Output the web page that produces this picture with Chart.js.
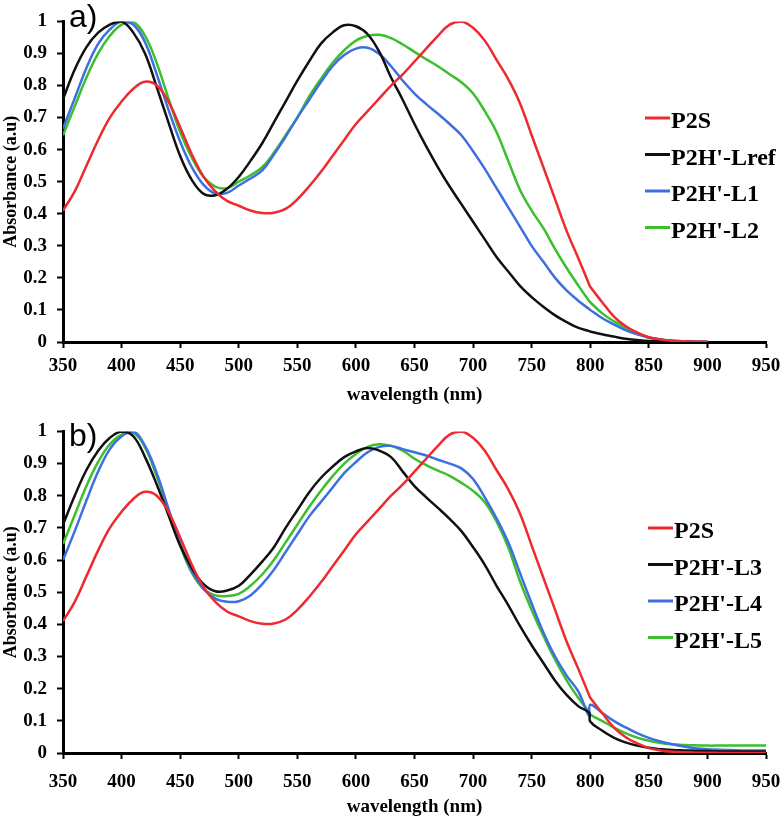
<!DOCTYPE html>
<html lang="en">
<head>
  <meta charset="UTF-8">
  <title>Absorbance spectra</title>
  <script src="https://cdn.jsdelivr.net/npm/chart.js"></script>
  <style>
    body {
      margin: 0;
      background: #fff;
    }
    .panel {
      position: absolute;
      left: 0;
    }
    #panelA { top: 0; }
    #panelB { top: 410px; }
  </style>
</head>
<body>
  <canvas id="panelA" class="panel" width="783" height="410"></canvas>
  <canvas id="panelB" class="panel" width="783" height="409"></canvas>

  <script>
    // wavelength grid (nm); 799 is kept because of the detector step at 800 nm
    const wavelength = [350,360,370,380,390,400,410,420,430,440,450,460,470,480,490,500,
      510,520,530,540,550,560,570,580,590,600,610,620,630,640,650,660,670,680,690,700,
      710,720,730,740,750,760,770,780,790,799,800,810,820,830,840,850,860,870,880,890,900,
      910,920,930,940,950];

    const p2s = [0.41,0.47,0.55,0.63,0.70,0.75,0.79,0.812,0.80,0.75,0.67,0.585,0.515,0.47,0.44,0.425,
      0.41,0.402,0.403,0.415,0.445,0.485,0.53,0.58,0.63,0.68,0.72,0.76,0.80,0.835,0.875,0.915,0.955,0.99,1.0,0.98,
      0.94,0.88,0.82,0.745,0.645,0.545,0.445,0.345,0.26,0.18,0.172,0.125,0.08,0.05,0.03,0.015,0.008,0.004,0.002,0.001,0.001,
      0,0,0,0,0];

    // panel a
    const lref = [0.757,0.85,0.92,0.965,0.99,1.0,0.965,0.90,0.795,0.685,0.58,0.505,0.462,0.458,0.478,0.515,
      0.565,0.62,0.685,0.75,0.815,0.875,0.93,0.965,0.988,0.985,0.96,0.905,0.825,0.755,0.68,0.61,0.545,0.485,0.43,0.375,
      0.32,0.265,0.22,0.175,0.14,0.11,0.083,0.062,0.044,0.034,0.033,0.024,0.017,0.01,0.006,0.003,0.002,0.001,0.001,0,0];
    const l1 = [0.665,0.76,0.855,0.93,0.975,1.0,0.99,0.935,0.835,0.725,0.625,0.545,0.49,0.463,0.465,0.488,
      0.51,0.535,0.585,0.64,0.70,0.755,0.81,0.86,0.895,0.915,0.918,0.898,0.86,0.815,0.775,0.742,0.712,0.68,0.645,0.595,
      0.54,0.48,0.42,0.36,0.30,0.25,0.20,0.16,0.128,0.103,0.10,0.075,0.055,0.037,0.024,0.014,0.008,0.004,0.002,0.001,0];
    const l2 = [0.645,0.735,0.825,0.90,0.955,0.99,0.998,0.955,0.87,0.76,0.655,0.575,0.515,0.485,0.48,0.50,
      0.52,0.545,0.59,0.645,0.70,0.765,0.82,0.87,0.91,0.94,0.955,0.958,0.948,0.928,0.905,0.882,0.86,0.835,0.81,0.775,
      0.72,0.655,0.565,0.475,0.41,0.355,0.29,0.23,0.175,0.128,0.124,0.09,0.065,0.045,0.027,0.013,0.007,0.003,0.001,0,0];

    // panel b
    const l3 = [0.71,0.80,0.88,0.94,0.98,1.0,0.985,0.92,0.835,0.74,0.645,0.575,0.525,0.503,0.505,0.52,
      0.555,0.595,0.64,0.70,0.755,0.81,0.855,0.89,0.92,0.938,0.948,0.94,0.92,0.875,0.83,0.795,0.762,0.728,0.69,0.64,
      0.585,0.52,0.46,0.395,0.335,0.28,0.225,0.18,0.145,0.125,0.098,0.07,0.048,0.033,0.023,0.016,0.012,0.009,0.008,0.007,0.006,
      0.005,0.005,0.005,0.005,0.005];
    const l4 = [0.60,0.69,0.785,0.875,0.945,0.985,1.0,0.955,0.87,0.76,0.65,0.565,0.51,0.48,0.47,0.472,
      0.49,0.525,0.57,0.625,0.68,0.735,0.78,0.825,0.87,0.905,0.935,0.952,0.955,0.945,0.935,0.925,0.912,0.90,0.885,0.852,
      0.795,0.73,0.655,0.56,0.465,0.375,0.30,0.24,0.19,0.115,0.15,0.125,0.10,0.08,0.062,0.047,0.036,0.027,0.02,0.015,0.012,
      0.01,0.009,0.008,0.008,0.008];
    const l5 = [0.65,0.74,0.83,0.905,0.96,0.99,0.995,0.95,0.86,0.755,0.645,0.56,0.51,0.49,0.488,0.495,
      0.52,0.555,0.60,0.655,0.71,0.765,0.815,0.86,0.90,0.93,0.952,0.96,0.955,0.94,0.915,0.895,0.878,0.862,0.84,0.815,
      0.78,0.72,0.64,0.535,0.445,0.365,0.29,0.225,0.17,0.128,0.12,0.10,0.08,0.062,0.048,0.038,0.031,0.027,0.025,0.024,0.023,
      0.023,0.023,0.023,0.023,0.023];

    const yTicks = [0,0.1,0.2,0.3,0.4,0.5,0.6,0.7,0.8,0.9,1];

    const RED = '#ee2a2e', BLACK = '#111111', BLUE = '#3d6fe0', GREEN = '#3cbf2c';
    const serif = '"Liberation Serif", "Times New Roman", serif';

    function points(values) {
      return values.map((v, i) => ({ x: wavelength[i], y: v }));
    }

    function series(label, values, color) {
      return {
        label: label,
        data: points(values),
        borderColor: color,
        backgroundColor: color,
        borderWidth: 2.5,
        pointRadius: 0,
        tension: 0.4,
        fill: false
      };
    }

    // legend drawn inside the plot, plus the panel letter
    const insideLegend = {
      id: 'insideLegend',
      afterDraw(chart, args, opts) {
        const ctx = chart.ctx;
        ctx.save();
        ctx.font = 'bold 24px ' + serif;
        ctx.textBaseline = 'middle';
        ctx.textAlign = 'left';
        chart.data.datasets.forEach((ds, i) => {
          const y = opts.y + i * opts.gap;
          ctx.strokeStyle = ds.borderColor;
          ctx.lineWidth = 3;
          ctx.beginPath();
          ctx.moveTo(opts.x, y - 4);
          ctx.lineTo(opts.x + 25, y - 4);
          ctx.stroke();
          ctx.fillStyle = '#000';
          ctx.fillText(ds.label, opts.x + 26, y);
        });
        ctx.font = '32px "Liberation Sans", Arial, sans-serif';
        ctx.textBaseline = 'alphabetic';
        ctx.fillStyle = '#000';
        ctx.fillText(opts.tag, opts.tagX, opts.tagY);
        ctx.restore();
      }
    };

    function makeChart(canvasId, datasets, cfg) {
      return new Chart(document.getElementById(canvasId), {
        type: 'line',
        data: { datasets: datasets },
        plugins: [insideLegend],
        options: {
          responsive: false,
          animation: false,
          layout: { padding: { top: cfg.padTop, right: 17, left: 0, bottom: 0 } },
          plugins: {
            legend: { display: false },
            tooltip: { enabled: false },
            insideLegend: { x: cfg.legX, y: 122, gap: 36.5, tag: cfg.tag, tagX: 69, tagY: cfg.tagY }
          },
          scales: {
            x: {
              type: 'linear',
              min: 350,
              max: 950,
              afterFit: s => {
                s.height = cfg.xHeight;
                s.paddingLeft = 0;
                s.paddingRight = 0;
              },
              ticks: {
                stepSize: 50,
                color: '#000',
                padding: cfg.xPad,
                maxRotation: 0,
                font: { family: serif, size: 19, weight: 'bold' }
              },
              grid: {
                drawOnChartArea: false,
                drawTicks: true,
                tickLength: 6,
                tickWidth: 2,
                tickColor: '#000'
              },
              border: { display: true, color: '#000', width: 3 },
              title: {
                display: true,
                text: 'wavelength (nm)',
                color: '#000',
                padding: { top: 0, bottom: cfg.xTitlePad },
                font: { family: serif, size: 19, weight: 'bold' }
              }
            },
            y: {
              min: 0,
              max: 1,
              afterFit: s => { s.width = 63; },
              afterBuildTicks: s => { s.ticks = yTicks.map(v => ({ value: v })); },
              ticks: {
                color: '#000',
                padding: 10,
                callback: v => Number(v.toFixed(1)).toString(),
                font: { family: serif, size: 19, weight: 'bold' }
              },
              grid: {
                drawOnChartArea: false,
                drawTicks: true,
                tickLength: 6,
                tickWidth: 2,
                tickColor: '#000'
              },
              border: { display: true, color: '#000', width: 3 },
              title: {
                display: true,
                text: 'Absorbance (a.u)',
                color: '#000',
                padding: { top: 1, bottom: 0 },
                font: { family: serif, size: 18, weight: 'bold' }
              }
            }
          }
        }
      });
    }

    const endA = wavelength.indexOf(900) + 1;

    makeChart('panelA', [
      series('P2S', p2s.slice(0, endA), RED),
      series("P2H'-Lref", lref, BLACK),
      series("P2H'-L1", l1, BLUE),
      series("P2H'-L2", l2, GREEN)
    ], { padTop: 16, xHeight: 68, xPad: 7, xTitlePad: 4, legX: 645, tag: 'a)', tagY: 27 });

    makeChart('panelB', [
      series('P2S', p2s, RED),
      series("P2H'-L3", l3, BLACK),
      series("P2H'-L4", l4, BLUE),
      series("P2H'-L5", l5, GREEN)
    ], { padTop: 17, xHeight: 66, xPad: 12, xTitlePad: 1, legX: 648, tag: 'b)', tagY: 36 });
  </script>
</body>
</html>
